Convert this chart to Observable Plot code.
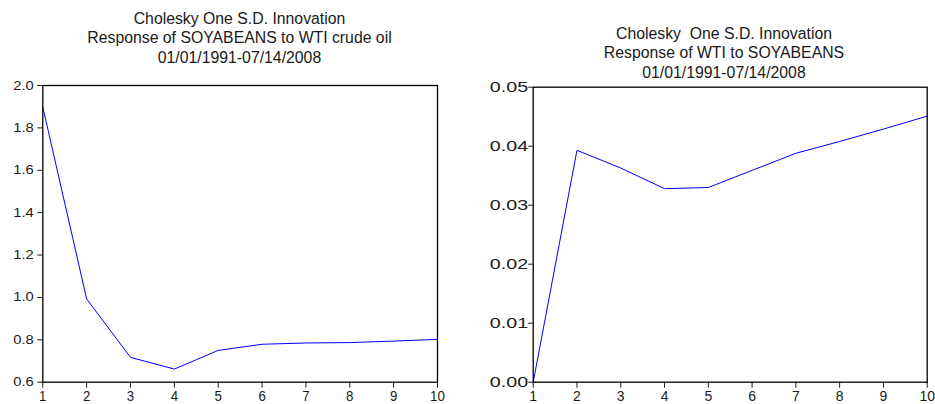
<!DOCTYPE html>
<html><head><meta charset="utf-8">
<script src="https://cdn.jsdelivr.net/npm/d3@7"></script>
<script src="https://cdn.jsdelivr.net/npm/@observablehq/plot@0.6"></script>
<style>
body{margin:0;background:#fff;}
#wrap{position:relative;width:935px;height:404px;overflow:hidden;font-family:"Liberation Sans",Arial,sans-serif;background:#fff;}
.title{position:absolute;width:400px;text-align:center;font-size:15.8px;line-height:19.6px;color:#1a1a1a;white-space:pre;}
.panel{position:absolute;top:0;}
</style></head><body>
<div id="wrap">
  <div class="title" id="t1"></div>
  <div class="title" id="t2"></div>
  <div class="panel" id="p1" style="left:0px"></div>
  <div class="panel" id="p2" style="left:467px"></div>
</div>
<script>
const periods = [1, 2, 3, 4, 5, 6, 7, 8, 9, 10];
const soyToWti = [1.898, 0.993, 0.717, 0.662, 0.750, 0.779, 0.785, 0.787, 0.794, 0.802];
const wtiToSoy = [0, 0.0393, 0.0363, 0.0328, 0.0330, 0.0359, 0.0388, 0.0408, 0.0429, 0.0451];
const leftYTicks = [0.6, 0.8, 1.0, 1.2, 1.4, 1.6, 1.8, 2.0];
const rightYTicks = [0, 0.01, 0.02, 0.03, 0.04, 0.05];
const leftTitle = ["Cholesky One S.D. Innovation", "Response of SOYABEANS to WTI crude oil", "01/01/1991-07/14/2008"];
const rightTitle = ["Cholesky  One S.D. Innovation", "Response of WTI to SOYABEANS", "01/01/1991-07/14/2008"];

const t1 = document.getElementById("t1");
t1.textContent = leftTitle.join("\n");
t1.style.left = (239.5 - 200) + "px"; t1.style.top = "8.6px";
const t2 = document.getElementById("t2");
t2.textContent = rightTitle.join("\n");
t2.style.left = (724 - 200) + "px"; t2.style.top = "23.6px";

function stretch(svg, sel, size, sx) {
  svg.querySelectorAll(`g[aria-label="${sel}"]`).forEach(g => {
    g.setAttribute("font-size", size);
    g.style.fontSize = size + "px";
    g.querySelectorAll("text").forEach(t => {
      t.style.fontSize = size + "px";
      let tr = t.getAttribute("transform");
      if (!tr) {
        const x = +(t.getAttribute("x") || 0), y = +(t.getAttribute("y") || 0);
        t.removeAttribute("x"); t.removeAttribute("y");
        tr = `translate(${x},${y})`;
      }
      if (sx !== 1) t.setAttribute("transform", tr + ` scale(${sx},1)`);
    });
  });
}

function panel(values, yDomain, yTicks, fmt, m, yLabelSize, ySx, xLabelSize, xSx, ytickPad, ytickSize) {
  const data = periods.map((p, i) => ({p, v: values[i]}));
  const svg = Plot.plot({
    width: m.w, height: 404,
    marginLeft: m.l, marginRight: m.r, marginTop: m.t, marginBottom: m.b,
    style: {fontFamily: "'Liberation Sans', Arial, sans-serif", fontSize: "13px", color: "#1a1a1a", background: "transparent", overflow: "visible"},
    x: {domain: [1, 10]},
    y: {domain: yDomain},
    marks: [
      Plot.axisX({ticks: periods, tickSize: 6, tickPadding: 3, tickFormat: d => String(d), label: null, fill: "#1a1a1a"}),
      Plot.axisY({ticks: yTicks, tickSize: ytickSize, tickPadding: ytickPad, tickFormat: fmt, label: null, fill: "#1a1a1a"}),
      Plot.line(data, {x: "p", y: "v", stroke: "#0000ff", strokeWidth: 1}),
      Plot.frame({stroke: "#000", strokeWidth: 1.3})
    ]
  });
  stretch(svg, "y-axis tick label", yLabelSize, ySx);
  stretch(svg, "x-axis tick label", xLabelSize, xSx);
  return svg;
}

document.getElementById("p1").appendChild(
  panel(soyToWti, [0.6, 2.0], leftYTicks, d3.format(".1f"),
    {w: 467, l: 42.3, r: 30, t: 85, b: 22.3}, 12.5, 1.18, 14, 0.95, 4, 5));
document.getElementById("p2").appendChild(
  panel(wtiToSoy, [0, 0.05], rightYTicks, d3.format(".2f"),
    {w: 468, l: 65.7, r: 8.3, t: 86.7, b: 22.3}, 15.4, 1.28, 14, 1, 0.5, 4.5));
</script>
</body></html>
